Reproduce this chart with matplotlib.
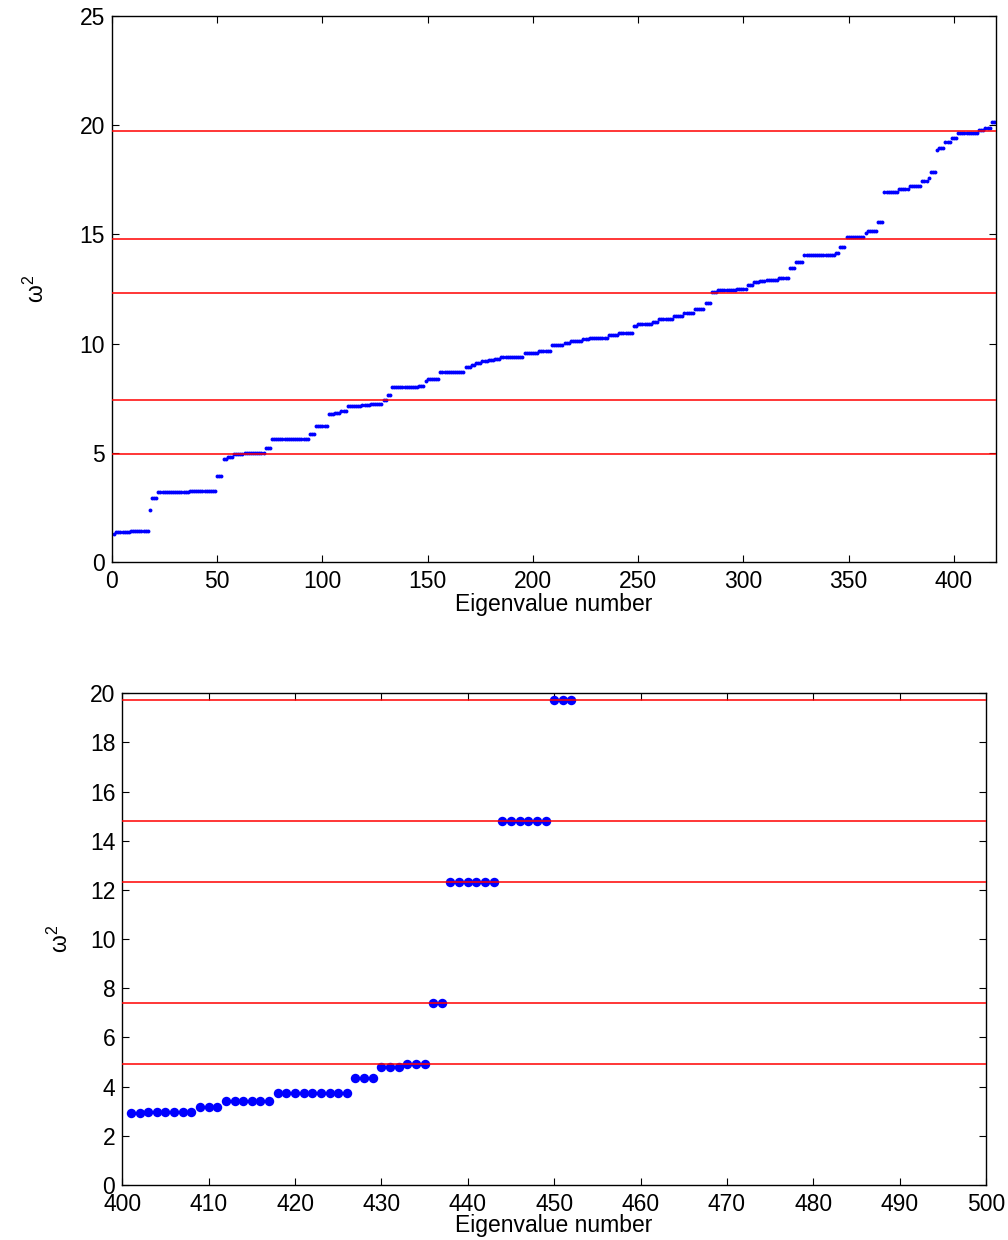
import numpy as np
import matplotlib
matplotlib.use("Agg")
import matplotlib.pyplot as plt

plt.rcParams['font.family'] = ['Liberation Sans', 'DejaVu Sans']
plt.rcParams['mathtext.fontset'] = 'custom'
plt.rcParams['mathtext.rm'] = 'Liberation Sans'

# reference frequencies (red lines)
ref_levels = [4.935, 7.402, 12.337, 14.804, 19.739]

plateau_vals = [1.30, 1.38, 1.41, 2.38, 2.93, 3.22, 3.26, 3.94, 4.73, 4.81,
                4.93, 4.97, 5.20, 5.63, 5.85, 6.21, 6.76, 6.84, 6.90, 7.16,
                7.19, 7.23, 7.43, 7.66, 8.00, 8.04, 8.27, 8.39, 8.70, 8.91,
                9.03, 9.10, 9.19, 9.25, 9.28, 9.37, 9.56, 9.68, 9.95, 10.01,
                10.12, 10.20, 10.27, 10.38, 10.47, 10.80, 10.90, 10.97, 11.13, 11.26,
                11.40, 11.57, 11.84, 12.35, 12.44, 12.51, 12.68, 12.80, 12.85, 12.91,
                12.99, 13.46, 13.74, 14.06, 14.13, 14.40, 14.88, 15.08, 15.17, 15.58,
                16.93, 17.08, 17.20, 17.45, 17.60, 17.87, 18.85, 18.97, 19.22, 19.41,
                19.66, 19.78, 19.87, 20.13]
plateau_cnt = [1, 7, 9, 1, 3, 15, 13, 3, 2, 3,
               5, 10, 3, 18, 3, 6, 3, 3, 3, 7,
               4, 6, 2, 2, 13, 3, 1, 6, 12, 3,
               2, 3, 3, 3, 3, 11, 7, 6, 6, 3,
               6, 3, 9, 5, 7, 2, 7, 3, 7, 5,
               5, 5, 3, 3, 9, 5, 3, 3, 3, 6,
               5, 3, 4, 15, 2, 3, 9, 1, 5, 3,
               7, 5, 6, 3, 1, 3, 1, 3, 3, 3,
               10, 3, 3, 3]

# bottom panel
idx2 = [401, 402, 403, 404, 405, 406, 407, 408, 409, 410, 411, 412, 413,
        414, 415, 416, 417, 418, 419, 420, 421, 422, 423, 424, 425, 426,
        427, 428, 429, 430, 431, 432, 433, 434, 435, 436, 437, 438, 439,
        440, 441, 442, 443, 444, 445, 446, 447, 448, 449, 450, 451, 452]
w2 = [2.93, 2.93, 2.97, 2.97, 2.97, 2.97, 2.97, 2.97, 3.17, 3.17, 3.17,
      3.42, 3.42, 3.42, 3.42, 3.42, 3.42, 3.75, 3.75, 3.75, 3.75, 3.75,
      3.75, 3.75, 3.75, 3.75, 4.35, 4.35, 4.35, 4.80, 4.80, 4.80, 4.93,
      4.93, 4.93, 7.40, 7.40, 12.34, 12.34, 12.34, 12.34, 12.34, 12.34,
      14.80, 14.80, 14.80, 14.80, 14.80, 14.80, 19.74, 19.74, 19.74]

w1 = np.repeat(plateau_vals, plateau_cnt)
idx1 = np.arange(1, len(w1) + 1)

fig = plt.figure(figsize=(10.08, 12.4), dpi=100)
ax1 = fig.add_axes([0.1111, 0.5468, 0.877, 0.4403])
ax2 = fig.add_axes([0.1213, 0.0444, 0.8569, 0.3965])

fs = 16.5

ax1.plot(idx1, w1, 'o', color='#0000ff', markersize=2.8, markeredgewidth=0)
for r in ref_levels:
    ax1.axhline(r, color='red', lw=1.1, zorder=3)
ax1.set_xlim(0, 420)
ax1.set_ylim(0, 25)
ax1.set_xticks(range(0, 401, 50))
ax1.set_yticks(range(0, 26, 5))
ax1.set_xlabel('Eigenvalue number', fontsize=fs, labelpad=0)
ax1.set_ylabel('ω$^2$', fontsize=fs, labelpad=22)

ax2.plot(idx2, w2, 'o', color='#0000ff', markersize=6.8, markeredgewidth=0)
for r in ref_levels:
    ax2.axhline(r, color='red', lw=1.1, zorder=3)
ax2.set_xlim(400, 500)
ax2.set_ylim(0, 20)
ax2.set_xticks(range(400, 501, 10))
ax2.set_yticks(range(0, 21, 2))
ax2.set_xlabel('Eigenvalue number', fontsize=fs, labelpad=-1)
ax2.set_ylabel('ω$^2$', fontsize=fs, labelpad=12)

for ax in (ax1, ax2):
    ax.tick_params(direction='in', top=True, right=True, labelsize=fs,
                   length=5, width=0.8)
    ax.tick_params(axis='x', pad=5.5)
    ax.tick_params(axis='y', pad=5)
    for s in ax.spines.values():
        s.set_linewidth(1.0)

fig.savefig('out.png', dpi=100)
